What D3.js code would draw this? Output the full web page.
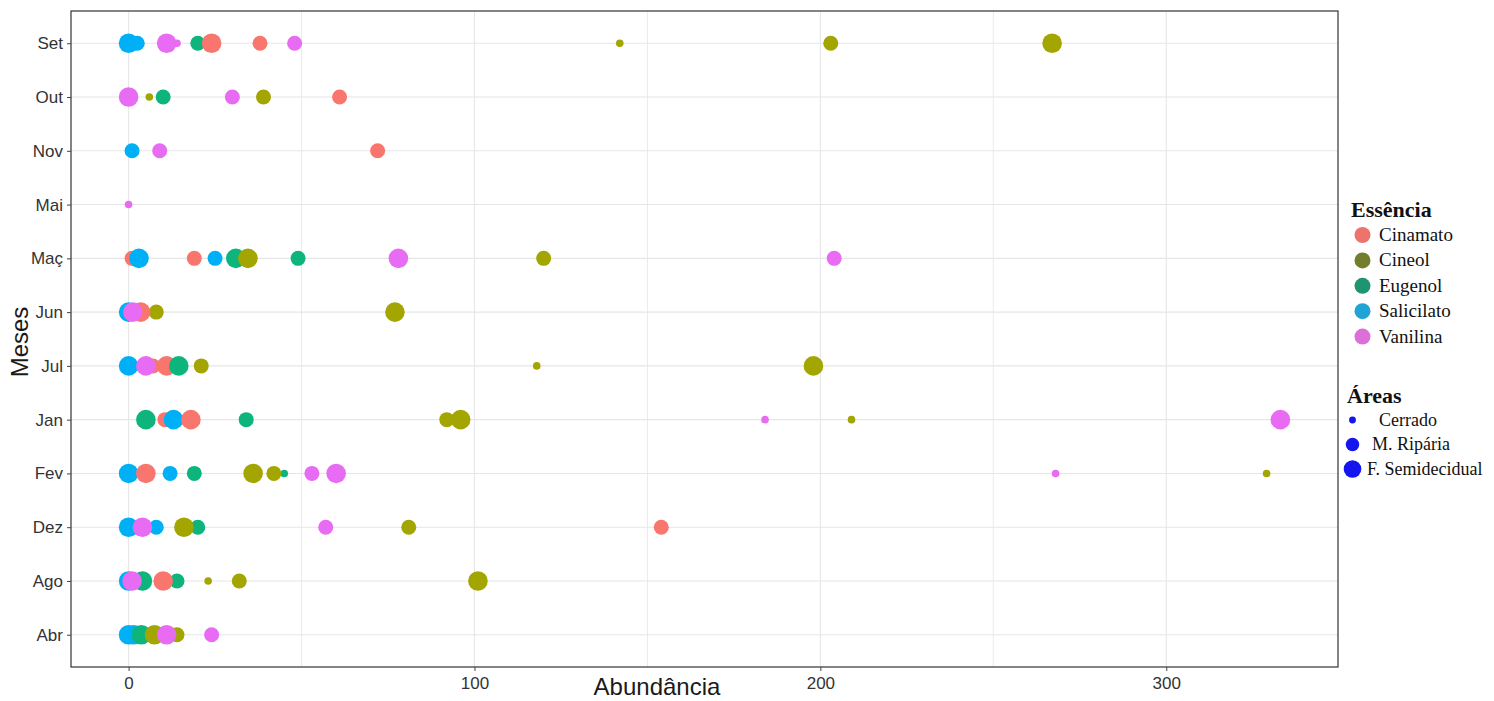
<!DOCTYPE html>
<html lang="pt">
<head>
<meta charset="UTF-8">
<title>Abundância por mês, essência e área</title>
<script src="https://cdnjs.cloudflare.com/ajax/libs/d3/7.8.5/d3.min.js"></script>
<style>
    body { margin: 0; background: #fff; }
    svg { display: block; }
    .tick text { font-family: "Liberation Sans", Arial, sans-serif; font-size: 17px; fill: #333; }
    .tick line { stroke: #444; }
    .axis-title { font-family: "Liberation Sans", Arial, sans-serif; font-size: 24px; fill: #1a1a1a; }
    .leg-title { font-family: "Liberation Serif", "Times New Roman", serif; font-size: 22px; font-weight: bold; fill: #111; }
    .leg-label { font-family: "Liberation Serif", "Times New Roman", serif; font-size: 19px; fill: #111; }
    .leg-label.small { font-size: 18px; }
</style>
</head>
<body>
<div id="chart"></div>
<script>
// months, top to bottom as in the figure
const months = ["Set", "Out", "Nov", "Mai", "Maç", "Jun", "Jul", "Jan", "Fev", "Dez", "Ago", "Abr"];
const essences = ["Cinamato", "Cineol", "Eugenol", "Salicilato", "Vanilina"];
const areas = ["Cerrado", "M. Ripária", "F. Semidecidual"];
const xTicks = [0, 100, 200, 300];

// [month, area index (0 Cerrado, 1 M. Ripária, 2 F. Semidecidual), abundance]
const cinamato = [
    ["Set", 2, 24], ["Set", 1, 38], ["Out", 1, 61], ["Nov", 1, 72],
    ["Maç", 1, 1], ["Maç", 1, 19], ["Jun", 2, 3.5], ["Jul", 1, 7], ["Jul", 2, 11],
    ["Jan", 1, 10.5], ["Jan", 2, 18], ["Fev", 2, 5], ["Dez", 1, 154], ["Ago", 2, 10]
];
const cineol = [
    ["Set", 0, 142], ["Set", 1, 203], ["Set", 2, 267], ["Out", 0, 6], ["Out", 1, 39],
    ["Maç", 2, 34.5], ["Maç", 1, 120], ["Jun", 1, 8], ["Jun", 2, 77],
    ["Jul", 1, 21], ["Jul", 0, 118], ["Jul", 2, 198],
    ["Jan", 1, 92], ["Jan", 2, 96], ["Jan", 0, 209],
    ["Fev", 2, 36], ["Fev", 1, 42], ["Fev", 0, 329],
    ["Dez", 2, 16], ["Dez", 1, 81], ["Ago", 0, 23], ["Ago", 1, 32], ["Ago", 2, 101],
    ["Abr", 2, 7.5], ["Abr", 1, 14]
];
const eugenol = [
    ["Set", 1, 20], ["Out", 1, 10], ["Maç", 2, 31], ["Maç", 1, 49],
    ["Jul", 2, 14.5], ["Jan", 2, 5], ["Jan", 1, 34], ["Fev", 1, 19], ["Fev", 0, 45],
    ["Dez", 1, 20], ["Ago", 2, 4], ["Ago", 1, 14], ["Abr", 2, 3.7]
];
const salicilato = [
    ["Set", 2, 0], ["Set", 1, 2.5], ["Nov", 1, 1], ["Maç", 2, 3], ["Maç", 1, 25],
    ["Jun", 2, 0], ["Jul", 2, 0], ["Jan", 2, 13], ["Fev", 2, 0], ["Fev", 1, 12],
    ["Dez", 2, 0], ["Dez", 1, 8], ["Ago", 2, 0], ["Abr", 2, 0], ["Abr", 2, 1.5]
];
const vanilina = [
    ["Set", 2, 11], ["Set", 0, 14], ["Set", 1, 48], ["Out", 2, 0], ["Out", 1, 30],
    ["Nov", 1, 9], ["Mai", 0, 0], ["Maç", 2, 78], ["Maç", 1, 204],
    ["Jun", 2, 1.2], ["Jul", 2, 5], ["Jan", 0, 184], ["Jan", 2, 333],
    ["Fev", 1, 53], ["Fev", 2, 60], ["Fev", 0, 268],
    ["Dez", 2, 4], ["Dez", 1, 57], ["Ago", 2, 1], ["Abr", 2, 11], ["Abr", 1, 24]
];

const series = { Cinamato: cinamato, Cineol: cineol, Eugenol: eugenol, Salicilato: salicilato, Vanilina: vanilina };
const drawRank = { Salicilato: 0, Cinamato: 1, Eugenol: 2, Cineol: 3, Vanilina: 4 };

const points = [];
essences.forEach(e => series[e].forEach(([m, a, v]) => points.push({ month: m, essence: e, area: areas[a], ai: a, value: v })));
points.sort((p, q) => (p.ai - q.ai) || (drawRank[p.essence] - drawRank[q.essence]));

const W = 1494, H = 701;
const panel = { left: 71, right: 1338, top: 11, bottom: 667 };

const svg = d3.select("#chart").append("svg").attr("width", W).attr("height", H);

// ggplot-like 5% expansion
const ext = d3.extent(points, d => d.value);
const pad = (ext[1] - ext[0]) * 0.05;
const x = d3.scaleLinear().domain([ext[0] - pad, ext[1] + pad]).range([panel.left, panel.right]);
const y = d3.scalePoint().domain(months).range([panel.top, panel.bottom]).padding(0.6);

const color = d3.scaleOrdinal().domain(essences).range(["#F8766D", "#A3A500", "#0DB57D", "#00B0F6", "#E76BF3"]);
const legendColor = d3.scaleOrdinal().domain(essences).range(["#EC746C", "#737D2C", "#1F9473", "#20A4D6", "#DC6FD8"]);
const radius = d3.scaleOrdinal().domain(areas).range([3.8, 7.5, 9.8]);

// grid
const grid = svg.append("g");
grid.selectAll(".minor").data([50, 150, 250]).join("line")
    .attr("x1", d => x(d)).attr("x2", d => x(d))
    .attr("y1", panel.top).attr("y2", panel.bottom)
    .attr("stroke", "#EBEBEB").attr("stroke-width", 1);
grid.selectAll(".vmajor").data(xTicks).join("line")
    .attr("x1", d => x(d)).attr("x2", d => x(d))
    .attr("y1", panel.top).attr("y2", panel.bottom)
    .attr("stroke", "#E6E6E6").attr("stroke-width", 1.1);
grid.selectAll(".hmajor").data(months).join("line")
    .attr("x1", panel.left).attr("x2", panel.right)
    .attr("y1", d => y(d)).attr("y2", d => y(d))
    .attr("stroke", "#E6E6E6").attr("stroke-width", 1.1);

// points
svg.append("g").selectAll("circle").data(points).join("circle")
    .attr("cx", d => x(d.value))
    .attr("cy", d => y(d.month))
    .attr("r", d => radius(d.area))
    .attr("fill", d => color(d.essence));

// panel border
svg.append("rect")
    .attr("x", panel.left).attr("y", panel.top)
    .attr("width", panel.right - panel.left).attr("height", panel.bottom - panel.top)
    .attr("fill", "none").attr("stroke", "#333").attr("stroke-width", 1.2);

// axes
svg.append("g").attr("transform", `translate(${panel.left},0)`)
    .call(d3.axisLeft(y).tickSize(4).tickPadding(4))
    .call(g => g.select(".domain").remove());
svg.append("g").attr("transform", `translate(0,${panel.bottom})`)
    .call(d3.axisBottom(x).tickValues(xTicks).tickSize(4).tickPadding(6))
    .call(g => g.select(".domain").remove());

svg.append("text").attr("class", "axis-title")
    .attr("x", 657).attr("y", 695).attr("text-anchor", "middle").text("Abundância");
svg.append("text").attr("class", "axis-title")
    .attr("transform", "translate(28,342) rotate(-90)").attr("text-anchor", "middle").text("Meses");

// legend: essences
const leg = svg.append("g");
leg.append("text").attr("class", "leg-title").attr("x", 1351).attr("y", 217).text("Essência");
const eItems = leg.selectAll(".eitem").data(essences).join("g")
    .attr("transform", (d, i) => `translate(0,${235 + i * 25.4})`);
eItems.append("circle").attr("cx", 1362.5).attr("cy", 0).attr("r", 8).attr("fill", d => legendColor(d));
eItems.append("text").attr("class", "leg-label").attr("x", 1379).attr("y", 6).text(d => d);

// legend: areas
leg.append("text").attr("class", "leg-title").attr("x", 1347).attr("y", 403).text("Áreas");
const aX = [1379, 1372, 1367];
const aItems = leg.selectAll(".aitem").data(areas).join("g")
    .attr("transform", (d, i) => `translate(0,${420 + i * 24.5})`);
aItems.append("circle").attr("cx", 1352.5).attr("cy", 0).attr("r", d => radius(d) * 0.9).attr("fill", "#1515EE");
aItems.append("text").attr("class", "leg-label small").attr("x", (d, i) => aX[i]).attr("y", 5.5).text(d => d);
</script>
</body>
</html>
